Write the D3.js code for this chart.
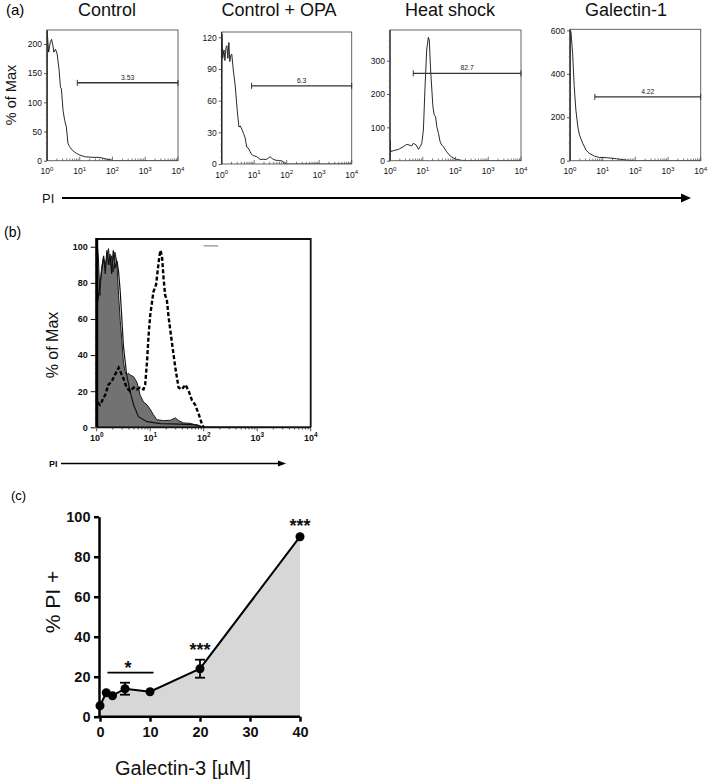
<!DOCTYPE html>
<html><head><meta charset="utf-8">
<script src="https://cdn.jsdelivr.net/npm/d3@7"></script>
<style>body{margin:0;background:#fff}svg{display:block}text{font-family:"Liberation Sans",Arial,sans-serif}</style>
</head><body><svg id="chart" width="709" height="782"></svg>
<script>
// ---------------- DATA ----------------
// Panel (a): flow cytometry histograms (x = log10 PI intensity, y = count)
const aTitles = ["Control", "Control + OPA", "Heat shock", "Galectin-1"];
const aYMax = [224, 125, 392, 605];
const aYTicks = [[0, 50, 100, 150, 200], [0, 30, 60, 90, 120], [0, 100, 200, 300], [0, 200, 400, 600]];
const aGateText = ["3.53", "6.3", "82.7", "4.22"];
const aGateStartLog = [0.925, 0.92, 0.71, 0.76];
const aGateLevel = [133.5, 74, 262, 294];
const decadeExps = [0, 1, 2, 3, 4];

const ctrlLogPI = [0, 0.005, 0.05, 0.1, 0.14, 0.18, 0.21, 0.26, 0.31, 0.37, 0.41, 0.44, 0.49, 0.54, 0.59, 0.64, 0.69, 0.79, 0.9, 1.0, 1.15, 1.4, 1.6, 1.81, 1.96, 2.0, 4.0];
const ctrlCount = [0, 222, 186, 203, 208, 197, 186, 191, 183, 155, 126, 123, 86, 69, 58, 30, 24, 17, 12.5, 9.7, 6.8, 5.7, 5.7, 2.8, 1.1, 0, 0];

const opaLogPI = [0, 0.005, 0.03, 0.07, 0.1, 0.13, 0.16, 0.19, 0.22, 0.25, 0.28, 0.31, 0.36, 0.41, 0.48, 0.53, 0.57, 0.62, 0.67, 0.72, 0.77, 0.82, 0.87, 0.92, 0.97, 1.08, 1.18, 1.28, 1.38, 1.49, 1.56, 1.64, 1.75, 1.85, 1.95, 2.0, 4.0];
const opaCount = [0, 123, 100, 108, 98, 110, 112, 100, 115, 97, 103, 104, 88, 76, 50, 35, 36, 33, 29, 25, 16, 15, 12, 9, 8, 6.9, 4.4, 4.4, 4.4, 6.9, 5, 3.75, 3.2, 3, 0.6, 0, 0];

const heatLogPI = [0, 0.005, 0.02, 0.1, 0.26, 0.41, 0.51, 0.59, 0.66, 0.71, 0.8, 0.87, 0.92, 0.97, 1.02, 1.07, 1.12, 1.17, 1.2, 1.24, 1.31, 1.35, 1.39, 1.43, 1.48, 1.53, 1.58, 1.63, 1.73, 1.84, 1.94, 2.04, 2.19, 2.35, 4.0];
const heatCount = [0, 60, 27, 30, 34, 42, 49, 47, 44, 52, 47, 34, 42, 52, 92, 222, 332, 370, 362, 272, 162, 137, 132, 102, 82, 57, 47, 42, 27, 14, 8, 4, 1, 0, 0];

const gal1LogPI = [0, 0.005, 0.03, 0.08, 0.13, 0.18, 0.24, 0.29, 0.39, 0.49, 0.59, 0.75, 0.9, 1.11, 1.42, 1.72, 1.93, 4.0];
const gal1Count = [0, 600, 593, 493, 340, 233, 156, 118, 80, 49, 34, 21, 15, 14, 9, 3, 0, 0];

// Panel (b): overlay histograms (% of Max)
const bYTicks = [0, 20, 40, 60, 80, 100];
const bYMax = 104.3;
const bFilledLogPI = [0, 0.005, 0.03, 0.06, 0.09, 0.125, 0.16, 0.19, 0.22, 0.25, 0.28, 0.31, 0.34, 0.375, 0.41, 0.44, 0.47, 0.5, 0.53, 0.56, 0.59, 0.625, 0.69, 0.75, 0.78, 0.81, 0.875, 0.94, 1.0, 1.06, 1.125, 1.25, 1.375, 1.47, 1.53, 1.625, 1.75, 1.875, 1.97, 4.0];
const bFilledPct = [0, 103, 95, 73, 88, 94, 90, 94, 99, 90, 95, 86, 97, 92, 73, 59, 48, 36, 31, 29, 30, 29, 28, 25, 22, 18, 14, 12.5, 10, 7, 4.2, 3.7, 3.9, 5.2, 3.7, 2.4, 2.2, 1.1, 0.2, 0];
const bSolidLogPI = [0, 0.03, 0.06, 0.1, 0.13, 0.16, 0.19, 0.22, 0.25, 0.28, 0.31, 0.34, 0.38, 0.41, 0.44, 0.5, 0.56, 0.625, 0.69, 0.78, 0.94, 1.19, 1.56, 1.875, 2.0];
const bSolidPct = [66, 72, 80, 88, 95, 85, 98, 90, 96, 85, 98, 88, 92, 86, 75, 45, 29, 19.7, 12.4, 5.9, 3.1, 2, 1.8, 1.3, 0];
const bDashedLogPI = [0.01, 0.06, 0.09, 0.16, 0.22, 0.28, 0.34, 0.41, 0.44, 0.5, 0.56, 0.625, 0.69, 0.75, 0.81, 0.875, 0.906, 0.94, 0.97, 1.0, 1.06, 1.11, 1.16, 1.19, 1.22, 1.25, 1.28, 1.31, 1.34, 1.41, 1.47, 1.53, 1.59, 1.66, 1.72, 1.78, 1.84, 1.91, 1.97, 2.0];
const bDashedPct = [14, 12.5, 14, 18, 23.6, 25.4, 29, 33, 31, 27, 22, 20, 22, 21, 22, 21, 23.6, 36, 51, 62, 75, 79, 92, 98, 95, 82.5, 73, 71, 62, 46, 33, 22, 21, 23.6, 20, 15, 12.5, 7, 1.5, 0];

// Panel (c): % PI+ vs Galectin-3 dose
const cDose = [0, 1.25, 2.5, 5, 10, 20, 40];
const cPIpos = [5.5, 12, 10.5, 14, 12.5, 24, 90];
const cSEM = [0, 0, 0, 3, 0, 4.5, 0];
const cXTicks = [0, 10, 20, 30, 40];
const cYTicks = [0, 20, 40, 60, 80, 100];
const cSigBar = [1.5, 10.7, 22];
const cStars = [{x: 5.6, y: 21.3, t: "*"}, {x: 20, y: 30.3, t: "***"}, {x: 40, y: 92.3, t: "***"}];

// ---------------- DRAW ----------------
const svg = d3.select("#chart");
svg.append("rect").attr("width", 709).attr("height", 782).attr("fill", "#fff");
const FONT = '"Liberation Sans",Arial,sans-serif';
const isPow = d => Math.abs(Math.log10(d) - Math.round(Math.log10(d))) < 1e-9;

function supLabel(g, x, y, exp, size, weight) {
  const t = g.append("text").attr("x", x).attr("y", y).attr("text-anchor", "middle")
    .attr("font-size", size).attr("font-weight", weight || "normal").attr("fill", "#111");
  t.append("tspan").text("10");
  t.append("tspan").attr("dy", -size * 0.42).attr("font-size", size * 0.72).text(exp);
}

// ---- Panel (a)
const aFrames = [
  {l: 47, r: 178, t: 30, b: 160.7},
  {l: 221.7, r: 351.7, t: 32, b: 164},
  {l: 390, r: 521, t: 30, b: 160.7},
  {l: 570, r: 700.7, t: 29.3, b: 160.7}
];
const aTitleX = [107, 279, 450, 626];
const aHist = [[ctrlLogPI, ctrlCount], [opaLogPI, opaCount], [heatLogPI, heatCount], [gal1LogPI, gal1Count]];

svg.append("text").attr("x", 6).attr("y", 15).attr("font-size", 15).text("(a)");

aFrames.forEach((f, i) => {
  const g = svg.append("g");
  const x = d3.scaleLog().domain([1, 1e4]).range([f.l, f.r]);
  const y = d3.scaleLinear().domain([0, aYMax[i]]).range([f.b, f.t]);
  g.append("text").attr("x", aTitleX[i]).attr("y", 16).attr("text-anchor", "middle")
    .attr("font-size", 18).attr("fill", "#111").text(aTitles[i]);
  const cid = "clipA" + i;
  g.append("clipPath").attr("id", cid).append("rect")
    .attr("x", f.l).attr("y", f.t).attr("width", f.r - f.l).attr("height", f.b - f.t);
  const pts = aHist[i][0].map((v, k) => [v, aHist[i][1][k]]);
  g.append("path").datum(pts).attr("clip-path", `url(#${cid})`)
    .attr("d", d3.line().x(d => x(Math.pow(10, d[0]))).y(d => y(d[1])))
    .attr("fill", "none").attr("stroke", "#111").attr("stroke-width", 0.9);
  g.append("rect").attr("x", f.l).attr("y", f.t).attr("width", f.r - f.l).attr("height", f.b - f.t)
    .attr("fill", "none").attr("stroke", "#555").attr("stroke-width", 0.9);
  g.append("line").attr("x1", f.l).attr("x2", f.l).attr("y1", f.t).attr("y2", f.b)
    .attr("stroke", "#222").attr("stroke-width", 1.2);
  g.selectAll(null).data(x.ticks()).join("line")
    .attr("x1", d => x(d)).attr("x2", d => x(d)).attr("y1", f.b).attr("y2", d => f.b - (isPow(d) ? 4 : 2.2))
    .attr("stroke", "#444").attr("stroke-width", 0.7);
  decadeExps.forEach(e => supLabel(g, x(Math.pow(10, e)), f.b + 13.5, e, 8.5));
  const yt = aYTicks[i];
  const step = yt[1] - yt[0];
  const minors = d3.range(0, aYMax[i], step / 5).filter(v => yt.indexOf(v) < 0);
  g.selectAll(null).data(minors).join("line")
    .attr("x1", f.l - 1.5).attr("x2", f.l).attr("y1", d => y(d)).attr("y2", d => y(d))
    .attr("stroke", "#666").attr("stroke-width", 0.5);
  const ya = d3.axisLeft(y).tickValues(yt).tickSize(3).tickPadding(2).tickSizeOuter(0);
  const yg = g.append("g").attr("transform", `translate(${f.l},0)`).call(ya);
  yg.select(".domain").remove();
  yg.selectAll("text").attr("font-size", 8.5).attr("font-family", FONT).attr("fill", "#111");
  yg.selectAll("line").attr("stroke", "#333").attr("stroke-width", 0.8);
  const gx1 = x(Math.pow(10, aGateStartLog[i])), gx2 = x(1e4), gy = y(aGateLevel[i]);
  g.append("line").attr("x1", gx1).attr("x2", gx2).attr("y1", gy).attr("y2", gy).attr("stroke", "#333").attr("stroke-width", 1.4);
  [gx1, gx2].forEach(xx => g.append("line").attr("x1", xx).attr("x2", xx).attr("y1", gy - 3).attr("y2", gy + 3).attr("stroke", "#333").attr("stroke-width", 1));
  g.append("text").attr("x", (gx1 + gx2) / 2).attr("y", gy - 3).attr("text-anchor", "middle")
    .attr("font-size", 6.8).attr("fill", "#222").text(aGateText[i]);
});
svg.append("text").attr("transform", "translate(16,95) rotate(-90)").attr("text-anchor", "middle")
  .attr("font-size", 14.5).attr("fill", "#111").text("% of Max");
svg.append("text").attr("x", 42).attr("y", 203).attr("font-size", 13).attr("fill", "#111").text("PI");
svg.append("line").attr("x1", 62).attr("x2", 682).attr("y1", 198).attr("y2", 198).attr("stroke", "#000").attr("stroke-width", 2);
svg.append("path").attr("d", "M691,198 L681,193.5 L681,202.5 Z").attr("fill", "#000");

// ---- Panel (b)
svg.append("text").attr("x", 4).attr("y", 237).attr("font-size", 14).text("(b)");
{
  const f = {l: 96.7, r: 310.7, t: 239, b: 427.3};
  const g = svg.append("g");
  const x = d3.scaleLog().domain([1, 1e4]).range([f.l, f.r]);
  const y = d3.scaleLinear().domain([0, bYMax]).range([f.b, f.t]);
  g.append("clipPath").attr("id", "clipB").append("rect")
    .attr("x", f.l).attr("y", f.t).attr("width", f.r - f.l).attr("height", f.b - f.t);
  const xf = d => x(Math.pow(10, d[0]));
  const filled = bFilledLogPI.map((v, k) => [v, bFilledPct[k]]);
  g.append("path").datum(filled).attr("clip-path", "url(#clipB)")
    .attr("d", d3.area().x(xf).y0(y(0)).y1(d => y(d[1])))
    .attr("fill", "#727272").attr("stroke", "#1a1a1a").attr("stroke-width", 1);
  const solid = bSolidLogPI.map((v, k) => [v, bSolidPct[k]]);
  g.append("path").datum(solid).attr("clip-path", "url(#clipB)")
    .attr("d", d3.line().x(xf).y(d => y(d[1])))
    .attr("fill", "none").attr("stroke", "#111").attr("stroke-width", 1.2);
  const dashed = bDashedLogPI.map((v, k) => [v, bDashedPct[k]]);
  g.append("path").datum(dashed).attr("clip-path", "url(#clipB)")
    .attr("d", d3.line().x(xf).y(d => y(d[1])))
    .attr("fill", "none").attr("stroke", "#000").attr("stroke-width", 2.4).attr("stroke-dasharray", "4,2.2");
  g.append("line").attr("x1", x(Math.pow(10, 2.0))).attr("x2", x(Math.pow(10, 2.27))).attr("y1", y(100.5)).attr("y2", y(100.5))
    .attr("stroke", "#9a9a9a").attr("stroke-width", 1.4);
  g.append("path").attr("d", `M${f.l},${f.t}H${f.r}V${f.b}`).attr("fill", "none").attr("stroke", "#111").attr("stroke-width", 1.8);
  g.append("line").attr("x1", f.l).attr("x2", f.r).attr("y1", f.b).attr("y2", f.b).attr("stroke", "#111").attr("stroke-width", 1.8);
  g.append("line").attr("x1", f.l).attr("x2", f.l).attr("y1", f.t - 1).attr("y2", f.b).attr("stroke", "#000").attr("stroke-width", 3);
  g.selectAll(null).data(x.ticks()).join("line")
    .attr("x1", d => x(d)).attr("x2", d => x(d)).attr("y1", f.b).attr("y2", d => f.b + (isPow(d) ? 4 : 2.2))
    .attr("stroke", "#222").attr("stroke-width", 0.8);
  decadeExps.forEach(e => supLabel(g, x(Math.pow(10, e)), 441, e, 9, "bold"));
  const minors = d3.range(0, 104, 5).filter(v => bYTicks.indexOf(v) < 0);
  g.selectAll(null).data(minors).join("line")
    .attr("x1", f.l - 2).attr("x2", f.l).attr("y1", d => y(d)).attr("y2", d => y(d))
    .attr("stroke", "#333").attr("stroke-width", 0.6);
  const ya = d3.axisLeft(y).tickValues(bYTicks).tickSize(5).tickPadding(3).tickSizeOuter(0);
  const yg = g.append("g").attr("transform", `translate(${f.l - 1},0)`).call(ya);
  yg.select(".domain").remove();
  yg.selectAll("text").attr("font-size", 9).attr("font-weight", "bold").attr("font-family", FONT).attr("fill", "#111");
  yg.selectAll("line").attr("stroke", "#111").attr("stroke-width", 1);
  svg.append("text").attr("transform", "translate(58,345) rotate(-90)").attr("text-anchor", "middle")
    .attr("font-size", 16).attr("fill", "#111").text("% of Max");
  svg.append("text").attr("x", 49).attr("y", 467).attr("font-size", 9).attr("font-weight", "bold").attr("fill", "#111").text("PI");
  svg.append("line").attr("x1", 61).attr("x2", 279).attr("y1", 463.5).attr("y2", 463.5).attr("stroke", "#000").attr("stroke-width", 1.3);
  svg.append("path").attr("d", "M286,463.5 L278,460.5 L278,466.5 Z").attr("fill", "#000");
}

// ---- Panel (c)
svg.append("text").attr("x", 11).attr("y", 500).attr("font-size", 13).text("(c)");
{
  const x = d3.scaleLinear().domain([0, 40]).range([100, 300]);
  const y = d3.scaleLinear().domain([0, 100]).range([716.7, 516.7]);
  const g = svg.append("g");
  const pts = cDose.map((d, k) => ({x: d, y: cPIpos[k], e: cSEM[k]}));
  g.append("path").datum(pts).attr("d", d3.area().x(d => x(d.x)).y0(y(0)).y1(d => y(d.y))).attr("fill", "#d7d7d7");
  g.append("path").datum(pts).attr("d", d3.line().x(d => x(d.x)).y(d => y(d.y)))
    .attr("fill", "none").attr("stroke", "#000").attr("stroke-width", 2);
  pts.filter(d => d.e > 0).forEach(d => {
    const cx = x(d.x);
    g.append("line").attr("x1", cx).attr("x2", cx).attr("y1", y(d.y - d.e)).attr("y2", y(d.y + d.e)).attr("stroke", "#000").attr("stroke-width", 1.8);
    [d.y - d.e, d.y + d.e].forEach(v => g.append("line").attr("x1", cx - 5).attr("x2", cx + 5).attr("y1", y(v)).attr("y2", y(v)).attr("stroke", "#000").attr("stroke-width", 1.8));
  });
  g.selectAll(null).data(pts).join("circle").attr("cx", d => x(d.x)).attr("cy", d => y(d.y)).attr("r", 4.5).attr("fill", "#000");
  g.append("line").attr("x1", x(cSigBar[0])).attr("x2", x(cSigBar[1])).attr("y1", y(cSigBar[2])).attr("y2", y(cSigBar[2])).attr("stroke", "#000").attr("stroke-width", 1.8);
  cStars.forEach(s => g.append("text").attr("x", x(s.x)).attr("y", y(s.y)).attr("text-anchor", "middle")
    .attr("font-size", 18).attr("font-weight", "bold").attr("fill", "#111").text(s.t));
  const xa = d3.axisBottom(x).tickValues(cXTicks).tickSize(5).tickPadding(5).tickSizeOuter(0);
  const xg = g.append("g").attr("transform", `translate(0,${y(0)})`).call(xa);
  const ya = d3.axisLeft(y).tickValues(cYTicks).tickSize(5).tickPadding(3.5).tickSizeOuter(0);
  const yg = g.append("g").attr("transform", `translate(${x(0) - 1},0)`).call(ya);
  [xg, yg].forEach(a => {
    a.select(".domain").attr("stroke", "#000").attr("stroke-width", 2.5);
    a.selectAll(".tick line").attr("stroke", "#000").attr("stroke-width", 2.5);
    a.selectAll("text").attr("font-size", 14.5).attr("font-weight", "bold").attr("font-family", FONT).attr("fill", "#111");
  });
  xg.select(".domain").attr("d", `M${x(0) - 2.2},0H${x(40)}`);
  svg.append("text").attr("transform", "translate(60,602) rotate(-90)").attr("text-anchor", "middle")
    .attr("font-size", 21).attr("fill", "#111").text("% PI +");
  svg.append("text").attr("x", 183).attr("y", 775).attr("text-anchor", "middle")
    .attr("font-size", 20).attr("fill", "#111").text("Galectin-3 [µM]");
}
</script></body></html>
